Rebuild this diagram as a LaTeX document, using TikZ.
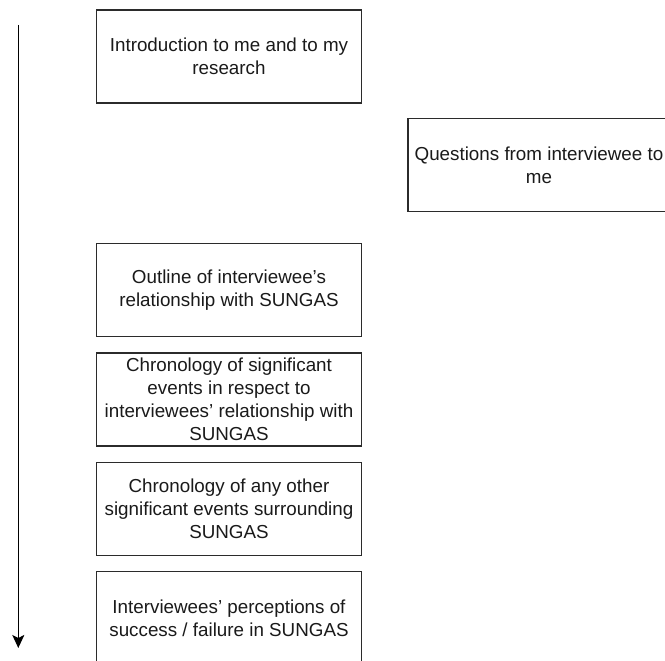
\documentclass[tikz,border=0pt]{standalone}
\usepackage{fontspec}
\setmainfont{Liberation Sans}
\usetikzlibrary{arrows.meta}
\definecolor{ink}{HTML}{1A1A1A}
\definecolor{edge}{HTML}{2B2B2B}
\begin{document}
\begin{tikzpicture}[x=1pt,y=-1pt,
  stagebox/.style={draw=edge, line width=1.3pt, fill=white, text=ink,
    minimum width=265pt, minimum height=93pt, inner sep=0pt,
    align=center, font=\fontsize{18.8}{22.8}\selectfont},
  flow/.style={draw=black, line width=1.3pt,
    -{Stealth[length=13pt,width=12pt,inset=3pt]}}]
  \clip (0,0) rectangle (665,661);
  \fill[white] (0,0) rectangle (665,661);

  % interview stages
  \node[stagebox] (intro) at (229,56.5) {Introduction to me and to my\\research};
  \node[stagebox, minimum width=262pt] (questions) at (539,165.3) {Questions from interviewee to\\me};
  \node[stagebox] (outline) at (229,290.3) {Outline of interviewee’s\\relationship with SUNGAS};
  \node[stagebox] (chrono) at (229,399.4) {Chronology of significant\\events in respect to\\interviewees’ relationship with\\SUNGAS};
  \node[stagebox] (other) at (229,508.7) {Chronology of any other\\significant events surrounding\\SUNGAS};
  \node[stagebox] (perception) at (229,618) {Interviewees’ perceptions of\\success / failure in SUNGAS};

  % time runs downwards
  \coordinate (start) at (18.3,25);
  \coordinate (finish) at (18.3,648);
  \draw[flow] (start) -- (finish);
\end{tikzpicture}
\end{document}
